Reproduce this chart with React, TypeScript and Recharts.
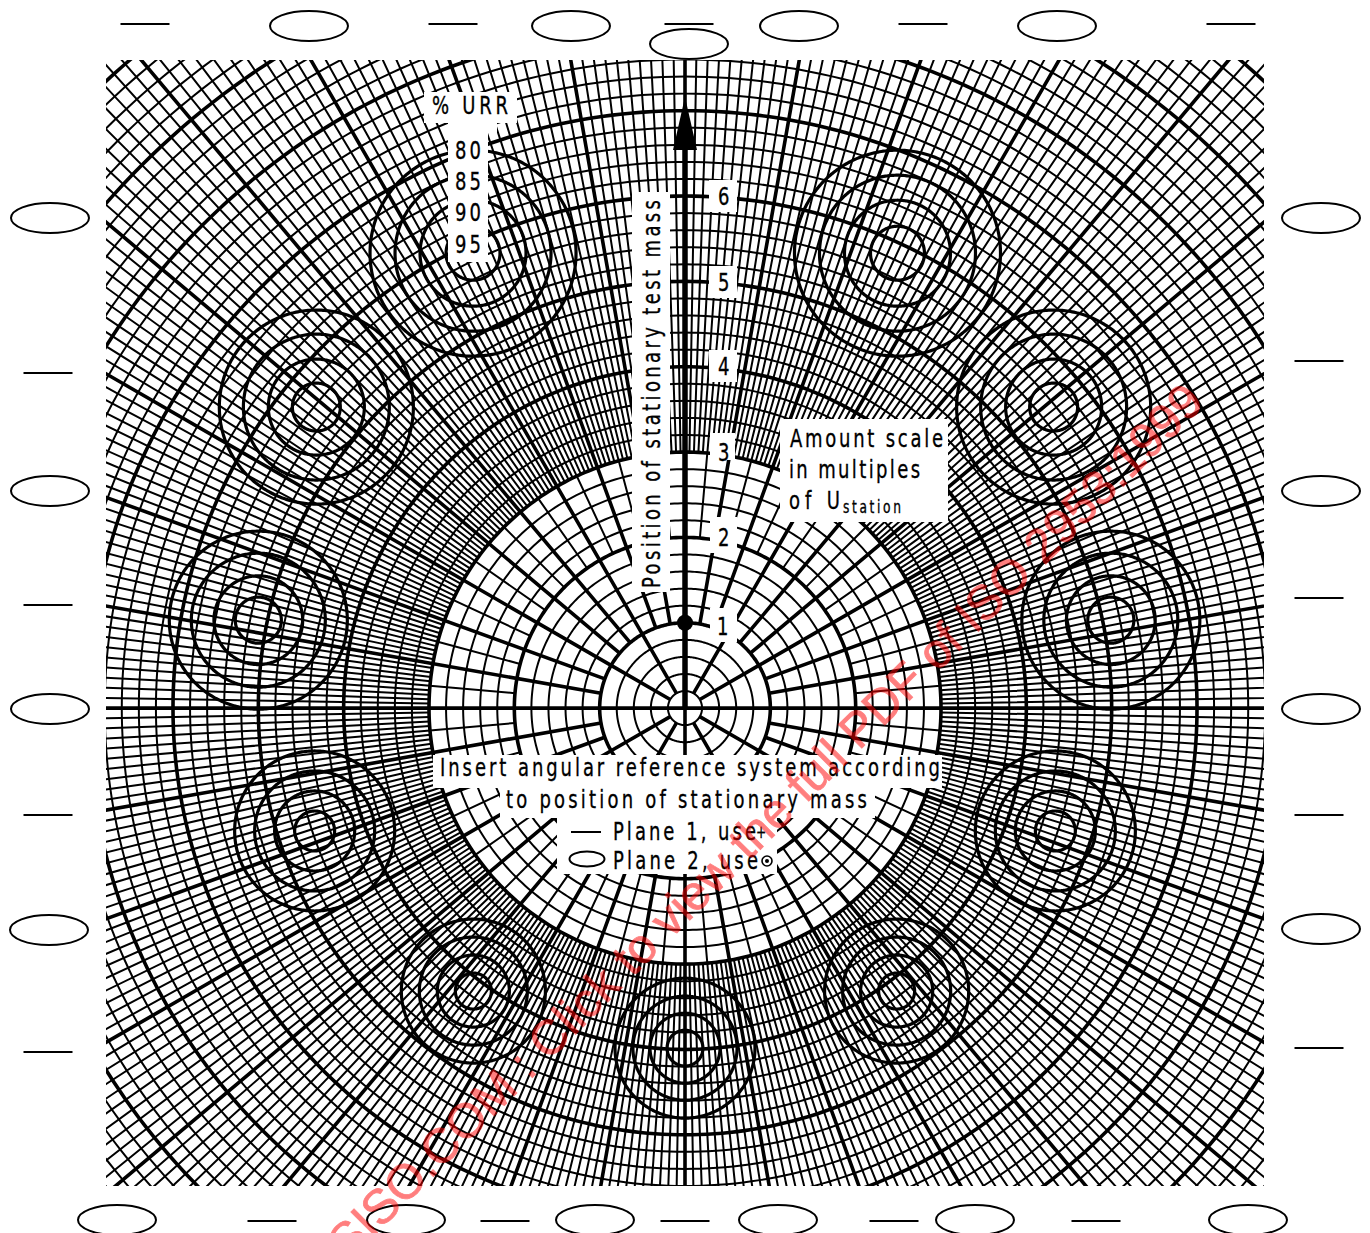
import { ComposedChart, Line, Scatter, XAxis, YAxis, ReferenceArea } from 'recharts'

const W = 1370
const H = 1233

// amount scale, in multiples of U_station
const THICK_RINGS = [1, 2, 3, 4, 5, 6, 7, 8, 9, 10]
const RING_BASES = [0, 1, 2, 3, 4, 5, 6, 7, 8, 9, 10]
const THIN_RING_OFFSETS = [0.2, 0.4, 0.6, 0.8]

// angles in degrees
const TEN_DEGREE_SPOKES = [
  0, 10, 20, 30, 40, 50, 60, 70, 80, 90, 100, 110, 120, 130, 140, 150, 160, 170,
  180, 190, 200, 210, 220, 230, 240, 250, 260, 270, 280, 290, 300, 310, 320, 330, 340, 350,
]
const THIRTY_DEGREE_SPOKES = [30, 60, 120, 150, 210, 240, 300, 330]
const AXIS_SPOKES = [0, 90, 180, 270]
const MID_OFFSETS = [5]
const FINE_OFFSETS = [1, 2, 3, 4, 5, 6, 7, 8, 9]

const OUTER_U = 10.4

// unbalance reduction circles: centre and the 80, 85, 90, 95 % radii
const URR_SETS = [
  { x: -2.484, y: 5.33, radii: [1.207, 0.914, 0.621, 0.316] },
  { x: 2.49, y: 5.33, radii: [1.207, 0.914, 0.621, 0.316] },
  { x: -4.32, y: 3.527, radii: [1.137, 0.855, 0.5625, 0.281] },
  { x: 4.32, y: 3.527, radii: [1.137, 0.855, 0.5625, 0.281] },
  { x: -5.0, y: 1.03, radii: [1.043, 0.785, 0.52, 0.27] },
  { x: 4.99, y: 1.03, radii: [1.043, 0.785, 0.52, 0.27] },
  { x: -4.34, y: -1.44, radii: [0.9375, 0.703, 0.469, 0.234] },
  { x: 4.34, y: -1.44, radii: [0.9375, 0.703, 0.469, 0.234] },
  { x: -2.48, y: -3.316, radii: [0.844, 0.633, 0.422, 0.211] },
  { x: 2.48, y: -3.316, radii: [0.844, 0.633, 0.422, 0.211] },
  { x: 0, y: -3.985, radii: [0.82, 0.61, 0.41, 0.21] },
]

const AXIS_LINE = [{ x: 0, y: 0 }, { x: 0, y: 6.55 }]
const ARROW_BASE = [{ x: 0, y: 6.54 }]
const AXIS_DOT = [{ x: 0, y: 1 }]

// page furniture around the square
const ELLIPSES = [
  { x: 309, y: 26 }, { x: 571, y: 26 }, { x: 799, y: 26 }, { x: 1057, y: 26 }, { x: 689, y: 44 },
  { x: 50, y: 218 }, { x: 50, y: 491 }, { x: 50, y: 709 }, { x: 49, y: 930 },
  { x: 1321, y: 218 }, { x: 1321, y: 491 }, { x: 1321, y: 709 }, { x: 1321, y: 929 },
  { x: 117, y: 1220 }, { x: 406, y: 1220 }, { x: 595, y: 1220 }, { x: 778, y: 1220 }, { x: 975, y: 1220 }, { x: 1248, y: 1220 },
]
const DASHES = [
  { x: 145, y: 24 }, { x: 453, y: 24 }, { x: 689, y: 24 }, { x: 923, y: 24 }, { x: 1231, y: 24 },
  { x: 48, y: 373 }, { x: 48, y: 605 }, { x: 48, y: 815 }, { x: 48, y: 1052 },
  { x: 1319, y: 361 }, { x: 1319, y: 598 }, { x: 1319, y: 815 }, { x: 1319, y: 1048 },
  { x: 272, y: 1221 }, { x: 505, y: 1221 }, { x: 685, y: 1221 }, { x: 894, y: 1221 }, { x: 1096, y: 1221 },
]

// white panels behind the labels: [x1, x2, y1, y2]
const PANELS = [
  [424, 517, 92, 123],
  [448, 497, 123, 133],
  [448, 488, 133, 262],
  [632, 670, 192, 592],
  [709, 737, 180, 212],
  [709, 737, 266, 298],
  [709, 737, 350, 382],
  [710, 735, 433, 460],
  [710, 737, 517, 553],
  [710, 737, 608, 642],
  [780, 948, 419, 522],
  [433, 942, 755, 788],
  [500, 875, 788, 818],
  [557, 777, 818, 874],
]

const LABELS = [
  { text: '% URR', x: 432, y: 105, width: 76 },
  { text: '80', x: 455, y: 150, width: 26 },
  { text: '85', x: 455, y: 181, width: 26 },
  { text: '90', x: 455, y: 212, width: 26 },
  { text: '95', x: 455, y: 244, width: 26 },
  { text: '6', x: 718, y: 196, width: 0 },
  { text: '5', x: 718, y: 282, width: 0 },
  { text: '4', x: 718, y: 366, width: 0 },
  { text: '3', x: 718, y: 452, width: 0 },
  { text: '2', x: 718, y: 537, width: 0 },
  { text: '1', x: 717, y: 626, width: 0 },
  { text: 'Amount scale', x: 790, y: 438, width: 153 },
  { text: 'in multiples', x: 789, y: 469, width: 131 },
  { text: 'of U', x: 789, y: 500, width: 51 },
  { text: 'Insert angular reference system according', x: 440, y: 767, width: 500 },
  { text: 'to position of stationary mass', x: 506, y: 799, width: 361 },
  { text: 'Plane 1, use', x: 613, y: 831, width: 143 },
  { text: 'Plane 2, use', x: 613, y: 860, width: 145 },
]
const SMALL_LABELS = [
  { text: 'station', x: 843, y: 507, width: 58 },
  { text: '+', x: 756, y: 832, width: 0 },
]
const AXIS_TITLE = [{ text: 'Position of stationary test mass', x: 651, y: 588, width: 388 }]
const LEGEND_DASH = [{ x: 586, y: 832 }]
const LEGEND_ELLIPSE = [{ x: 587, y: 859 }]
const LEGEND_TARGET = [{ x: 767, y: 861 }]
const WATERMARK = [{ text: 'SISO.COM : Click to view the full PDF of ISO 2953:1999', x: 1206, y: 404 }]

const rad = (deg: number) => (deg * Math.PI) / 180

function circlePoints(cx: number, cy: number, r: number) {
  const pts: { x: number; y: number | null }[] = []
  for (let a = 0; a <= 360; a += 1) {
    pts.push({ x: cx + r * Math.cos(rad(a)), y: cy + r * Math.sin(rad(a)) })
  }
  pts.push({ x: cx, y: null })
  return pts
}

function spokePoints(deg: number, from: number, to: number) {
  return [
    { x: from * Math.cos(rad(deg)), y: from * Math.sin(rad(deg)) },
    { x: to * Math.cos(rad(deg)), y: to * Math.sin(rad(deg)) },
    { x: 0, y: null as number | null },
  ]
}

const thinRings = RING_BASES.flatMap(b => THIN_RING_OFFSETS.flatMap(o => circlePoints(0, 0, b + o)))
const thickRings = THICK_RINGS.flatMap(r => circlePoints(0, 0, r))
const midSpokes = TEN_DEGREE_SPOKES.flatMap(a => MID_OFFSETS.flatMap(o => spokePoints(a + o, 2, 3)))
const fineSpokes = TEN_DEGREE_SPOKES.flatMap(a => FINE_OFFSETS.flatMap(o => spokePoints(a + o, 3, OUTER_U)))
const thickSpokes = [
  ...TEN_DEGREE_SPOKES.flatMap(a => spokePoints(a, 1, OUTER_U)),
  ...THIRTY_DEGREE_SPOKES.flatMap(a => spokePoints(a, 0.2, 1)),
  ...AXIS_SPOKES.flatMap(a => spokePoints(a, 0, 1)),
]
const urrCircles = URR_SETS.flatMap(s => s.radii.flatMap(r => circlePoints(s.x, s.y, r)))

const THIN = 2
const THICK = 3.6
const FONT = '"DejaVu Sans", sans-serif'
const SQUEEZE = 0.72

// narrow drawing-office lettering: squeezed glyphs, spaced out to the measured width
function letterText(p: any, size: number, rotate: number) {
  const width = p.payload.width
  return (
    <text
      transform={`translate(${p.cx} ${p.cy}) rotate(${rotate}) scale(${SQUEEZE} 1)`}
      fontFamily={FONT}
      fontSize={size}
      fill="#000"
      stroke="#000"
      strokeWidth={0.35}
      dominantBaseline="central"
      {...(width ? { textLength: width / SQUEEZE, lengthAdjust: 'spacing' } : {})}
    >
      {p.payload.text}
    </text>
  )
}

export default function App() {
  return (
    <div style={{ position: 'absolute', left: 0, top: 0, width: W, height: H, overflow: 'hidden', background: '#fff' }}>
      <div style={{ position: 'absolute', left: 0, top: 0 }}>
        <ComposedChart width={W} height={H} margin={{ top: 60, right: 106, bottom: 47, left: 106 }}>
          <XAxis dataKey="x" type="number" domain={[-6.785, 6.785]} allowDataOverflow hide />
          <YAxis dataKey="y" type="number" domain={[-5.6, 7.594]} allowDataOverflow hide />
          <Line data={thinRings} dataKey="y" stroke="#000" strokeWidth={THIN} dot={false} activeDot={false} isAnimationActive={false} />
          <Line data={midSpokes} dataKey="y" stroke="#000" strokeWidth={THIN} dot={false} activeDot={false} isAnimationActive={false} />
          <Line data={fineSpokes} dataKey="y" stroke="#000" strokeWidth={THIN} dot={false} activeDot={false} isAnimationActive={false} />
          <Line data={thickRings} dataKey="y" stroke="#000" strokeWidth={THICK} dot={false} activeDot={false} isAnimationActive={false} />
          <Line data={thickSpokes} dataKey="y" stroke="#000" strokeWidth={THICK} dot={false} activeDot={false} isAnimationActive={false} />
          <Line data={urrCircles} dataKey="y" stroke="#000" strokeWidth={3.2} dot={false} activeDot={false} isAnimationActive={false} />
        </ComposedChart>
      </div>
      <div style={{ position: 'absolute', left: 0, top: 0 }}>
        <ComposedChart width={W} height={H} margin={{ top: 0, right: 0, bottom: 0, left: 0 }}>
          <XAxis dataKey="x" type="number" domain={[0, W]} hide />
          <YAxis dataKey="y" type="number" domain={[0, H]} reversed hide />
          {PANELS.map(([x1, x2, y1, y2], i) => (
            <ReferenceArea key={i} x1={x1} x2={x2} y1={y1} y2={y2} fill="#fff" fillOpacity={1} stroke="none" ifOverflow="visible" />
          ))}
          <Scatter data={ELLIPSES} isAnimationActive={false} shape={(p: any) => (
            <ellipse cx={p.cx} cy={p.cy} rx={39} ry={15} fill="none" stroke="#000" strokeWidth={2} />
          )} />
          <Scatter data={DASHES} isAnimationActive={false} shape={(p: any) => (
            <line x1={p.cx - 24.5} x2={p.cx + 24.5} y1={p.cy} y2={p.cy} stroke="#000" strokeWidth={2} />
          )} />
          <Scatter data={LABELS} isAnimationActive={false} shape={(p: any) => letterText(p, 25, 0)} />
          <Scatter data={SMALL_LABELS} isAnimationActive={false} shape={(p: any) => letterText(p, 17, 0)} />
          <Scatter data={AXIS_TITLE} isAnimationActive={false} shape={(p: any) => letterText(p, 25, -90)} />
          <Scatter data={LEGEND_DASH} isAnimationActive={false} shape={(p: any) => (
            <line x1={p.cx - 15} x2={p.cx + 15} y1={p.cy} y2={p.cy} stroke="#000" strokeWidth={2} />
          )} />
          <Scatter data={LEGEND_ELLIPSE} isAnimationActive={false} shape={(p: any) => (
            <ellipse cx={p.cx} cy={p.cy} rx={17.5} ry={7.5} fill="none" stroke="#000" strokeWidth={2} />
          )} />
          <Scatter data={LEGEND_TARGET} isAnimationActive={false} shape={(p: any) => (
            <g>
              <circle cx={p.cx} cy={p.cy} r={5} fill="none" stroke="#000" strokeWidth={1.6} />
              <circle cx={p.cx} cy={p.cy} r={2} fill="#000" />
            </g>
          )} />
        </ComposedChart>
      </div>
      <div style={{ position: 'absolute', left: 0, top: 0 }}>
        <ComposedChart width={W} height={H} margin={{ top: 60, right: 106, bottom: 47, left: 106 }}>
          <XAxis dataKey="x" type="number" domain={[-6.785, 6.785]} hide />
          <YAxis dataKey="y" type="number" domain={[-5.6, 7.594]} hide />
          <Line data={AXIS_LINE} dataKey="y" stroke="#000" strokeWidth={5.5} dot={false} activeDot={false} isAnimationActive={false} />
          <Scatter data={ARROW_BASE} isAnimationActive={false} shape={(p: any) => (
            <polygon points={`${p.cx - 12},${p.cy} ${p.cx + 12},${p.cy} ${p.cx},${p.cy - 53}`} fill="#000" />
          )} />
          <Scatter data={AXIS_DOT} isAnimationActive={false} shape={(p: any) => <circle cx={p.cx} cy={p.cy} r={8} fill="#000" />} />
        </ComposedChart>
      </div>
      <div style={{ position: 'absolute', left: 0, top: 0 }}>
        <ComposedChart width={W} height={H} margin={{ top: 0, right: 0, bottom: 0, left: 0 }}>
          <XAxis dataKey="x" type="number" domain={[0, W]} hide />
          <YAxis dataKey="y" type="number" domain={[0, H]} reversed hide />
          <Scatter data={WATERMARK} isAnimationActive={false} shape={(p: any) => (
            <text
              x={p.cx}
              y={p.cy}
              transform={`rotate(-45 ${p.cx} ${p.cy})`}
              fontFamily='"Liberation Sans", sans-serif'
              fontSize={48.5}
              fill="#f00"
              stroke="#f00"
              strokeWidth={0.8}
              opacity={0.5}
              textAnchor="end"
            >
              {p.payload.text}
            </text>
          )} />
        </ComposedChart>
      </div>
    </div>
  )
}
